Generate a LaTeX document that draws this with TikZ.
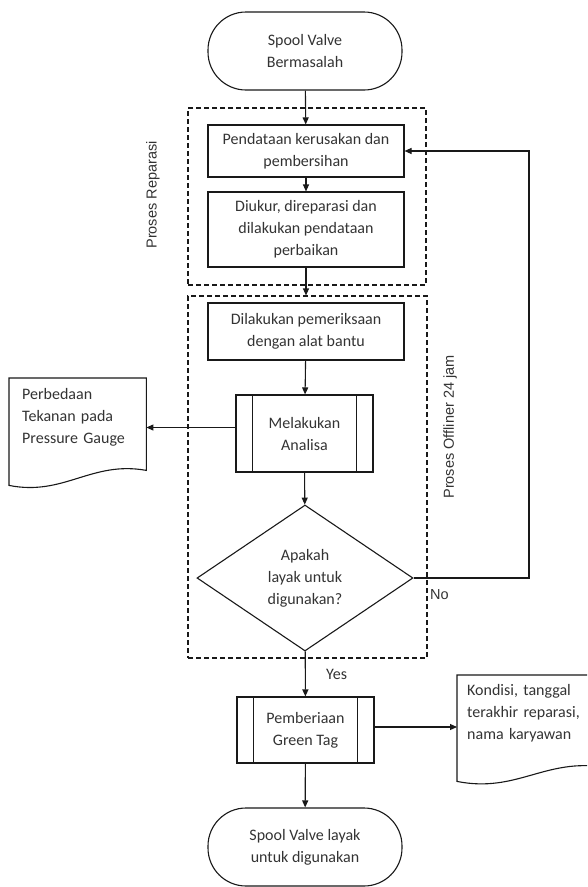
\documentclass[tikz,border=0pt]{standalone}
\usepackage{fontspec}
\setmainfont{Carlito}
\newfontfamily\arialfont{Liberation Sans}
\usetikzlibrary{arrows.meta,positioning,calc,shapes.geometric}

\tikzset{
  line/.style={draw=black!90, line width=1.1pt},
  arr/.style={line, -{Triangle[length=7pt,width=6pt]}},
  txt/.style={text=black!80, font=\fontsize{16}{22}\selectfont, align=center},
  term/.style={line, txt, rounded corners=38pt, minimum width=194pt, minimum height=78pt},
  procbox/.style={line, txt, minimum width=196pt, minimum height=52pt, inner sep=0pt},
  predef/.style={line, txt, minimum width=137pt, minimum height=77pt, inner sep=0pt},
  decide/.style={line, txt, diamond, aspect=1.48, inner sep=0pt, minimum width=216pt, minimum height=146pt},
  docbox/.style={txt, align=left, inner sep=0pt, anchor=north west},
  frame/.style={draw=black!90, line width=1.1pt, dash pattern=on 5pt off 3pt, inner sep=0pt},
  sidelabel/.style={text=black!80, font=\arialfont\fontsize{14.5}{17}\selectfont, rotate=90}
}

\begin{document}
\begin{tikzpicture}[x=1pt,y=-1pt]
  \useasboundingbox (0,0) rectangle (587,887);
  \clip (0,0) rectangle (587,887);

  % frames
  \node[frame, minimum width=238pt, minimum height=177pt] (repframe) at (307,196.5) {};
  \node[frame, minimum width=239pt, minimum height=362pt] (offframe) at (307.5,477) {};
  \node[sidelabel] (labrep) at (153,195) {Proses Reparasi};
  \node[sidelabel] (laboff) at (450,427) {Proses Offliner 24 jam};

  % main flow
  \node[term] (start) at (305,51) {Spool Valve\\Bermasalah};
  \node[procbox] (pend) at (306,151) {Pendataan kerusakan dan\\pembersihan};
  \node[procbox, minimum height=75pt] (ukur) at (306,229.5) {Diukur, direparasi dan\\dilakukan pendataan\\perbaikan};
  \node[procbox, minimum height=57pt] (periksa) at (306,331.5) {Dilakukan pemeriksaan\\dengan alat bantu};
  \node[predef] (analisa) at (304.5,433.5) {Melakukan\\Analisa};
  \node[decide] (layak) at (305,578) {Apakah\\layak untuk\\digunakan?};
  \node[predef, minimum height=66pt] (green) at (305.5,730) {Pemberiaan\\Green Tag};
  \node[term] (end) at (305,847) {Spool Valve layak\\untuk digunakan};

  % documents
  \node[docbox, text width=111pt, minimum width=137pt, minimum height=78pt] (beda) at (9,378) {Perbedaan\\Tekanan pada\\Pressure Gauge};
  \node[docbox, text width=128pt, minimum width=148pt, minimum height=76pt] (kondisi) at (457,675) {Kondisi, tanggal\\terakhir reparasi,\\nama karyawan};
  \draw[line] (beda.north west) -- (beda.north east) -- ($(beda.south east)+(0,14)$)
    .. controls ($(beda.south east)+(-55,4)$) and ($(beda.south west)+(55,40)$) .. ($(beda.south west)+(0,29)$) -- cycle;
  \draw[line] (kondisi.north west) -- (kondisi.north east) -- ($(kondisi.south east)+(0,16)$)
    .. controls ($(kondisi.south east)+(-60,6)$) and ($(kondisi.south west)+(60,42)$) .. ($(kondisi.south west)+(0,30)$) -- cycle;

  \foreach \n in {analisa,green} {
    \draw[line] ([xshift=17pt]\n.north west) -- ([xshift=17pt]\n.south west);
    \draw[line] ([xshift=-17pt]\n.north east) -- ([xshift=-17pt]\n.south east);
  }

  % connectors
  \coordinate (looptop) at (529,151);
  \draw[arr] (start) -- (pend);
  \draw[arr] (pend) -- (ukur);
  \draw[arr] (ukur) -- (offframe.north -| ukur.south);
  \draw[arr] (periksa) -- (analisa);
  \draw[arr] (analisa) -- (layak);
  \draw[arr] ([yshift=6pt]analisa.west) -- ([yshift=6pt]analisa.west -| beda.east);
  \draw[arr] (layak.east) node[below right=9pt and 14pt, inner sep=2pt, text=black!80, font=\arialfont\fontsize{14.5}{17}\selectfont] {No}
    -| (looptop) -- (pend.east);
  \draw[arr] (layak) -- node[right=17pt, txt] {Yes} (green);
  \draw[arr] ([yshift=3pt]green.east) -- ([yshift=3pt]green.east -| kondisi.west);
  \draw[arr] (green) -- (end);
\end{tikzpicture}
\end{document}
